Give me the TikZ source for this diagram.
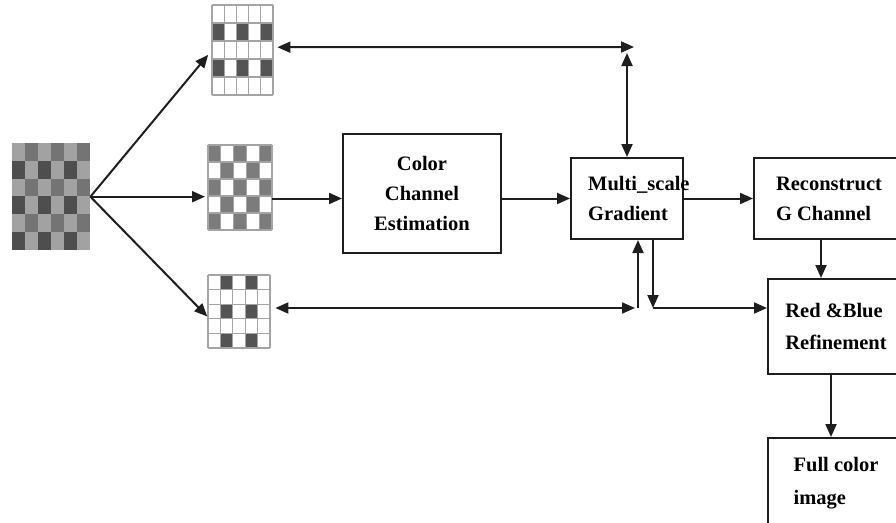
\documentclass[tikz,border=0pt]{standalone}
\usepackage{fontspec}
\setmainfont{Liberation Serif}
\usepackage{tikz}
\usetikzlibrary{arrows.meta, positioning, calc}
\definecolor{ink}{HTML}{1E1E1E}
\definecolor{bayer0}{HTML}{A2A2A2}
\definecolor{bayer1}{HTML}{747474}
\definecolor{bayer2}{HTML}{4E4E4E}
\definecolor{bayer3}{HTML}{A2A2A2}
\definecolor{cellgray}{HTML}{7C7C7C}
\definecolor{celldark}{HTML}{545454}
\definecolor{cellline}{HTML}{A4A4A4}

\begin{document}
\begin{tikzpicture}[x=1pt, y=-1pt,
    >={Triangle[length=13pt, width=11pt]},
    flow/.style={draw=ink, line width=2pt},
    stage/.style={draw=ink, line width=2pt, fill=white, anchor=north west, inner sep=0pt, align=center,
      font=\bfseries\fontsize{20.5}{30}\selectfont},
    tile/.style={anchor=north west, inner sep=0pt},
    cellrule/.style={draw=cellline, line width=1.1pt}]
  \useasboundingbox (0,0) rectangle (896,522);
  \clip (0,0) rectangle (896,522);

  % mosaic input
  \node[tile, minimum width=78pt, minimum height=107pt] (bayer) at (12,143) {};
  \foreach \r in {0,...,5}{
    \foreach \c in {0,...,5}{
      \pgfmathtruncatemacro{\kind}{mod(\r,2)*2+mod(\c,2)}
      \fill[bayer\kind] (12+\c*13,143+\r*17.83) rectangle ++(13,17.83);
    }
  }

  % sampled planes
  \node[tile, minimum width=61pt, minimum height=90pt] (rgrid) at (212,5) {};
  \foreach \r in {1,3}{
    \foreach \c in {0,2,4}
      \fill[celldark] (212+\c*12.2,5+\r*18) rectangle ++(12.2,18);
  }
  \foreach \k in {0,...,5}{
    \draw[cellrule] (212+\k*12.2,5) -- ++(0,90);
    \draw[cellrule] (212,5+\k*18) -- ++(61,0);
  }

  \node[tile, minimum width=64pt, minimum height=85pt] (ggrid) at (208,145) {};
  \foreach \r in {0,...,4}{
    \foreach \c in {0,...,4}{
      \pgfmathtruncatemacro{\odd}{mod(\r+\c,2)}
      \ifnum\odd=0 \fill[cellgray] (208+\c*12.8,145+\r*17) rectangle ++(12.8,17); \fi
    }
  }
  \foreach \k in {0,...,5}{
    \draw[cellrule] (208+\k*12.8,145) -- ++(0,85);
    \draw[cellrule] (208,145+\k*17) -- ++(64,0);
  }

  \node[tile, minimum width=62pt, minimum height=73pt] (bgrid) at (208,275) {};
  \foreach \r in {0,2,4}{
    \foreach \c in {1,3}
      \fill[celldark] (208+\c*12.4,275+\r*14.6) rectangle ++(12.4,14.6);
  }
  \foreach \k in {0,...,5}{
    \draw[cellrule] (208+\k*12.4,275) -- ++(0,73);
    \draw[cellrule] (208,275+\k*14.6) -- ++(62,0);
  }

  % processing stages
  \node[stage, minimum width=158pt, minimum height=119pt] (cce) at (342,133) {Color\\Channel\\Estimation};
  \node[stage, minimum width=112pt, minimum height=81pt] (ms) at (570,157) {};
  \node[anchor=west, align=left, inner sep=0pt, font=\bfseries\fontsize{20.5}{30}\selectfont] (mstext) at ([xshift=18pt]ms.west) {Multi\_scale\\Gradient};
  \node[stage, minimum width=150pt, minimum height=81pt, align=left] (rcg) at (753,157) {Reconstruct\\G Channel};
  \node[stage, minimum width=136pt, minimum height=95pt, align=left, font=\bfseries\fontsize{20.5}{32}\selectfont] (rbr) at (767,278) {Red \&Blue\\Refinement};
  \node[stage, minimum width=136pt, minimum height=90pt, align=left, font=\bfseries\fontsize{20.5}{33}\selectfont] (fci) at (767,437) {Full color\\image};

  % connectors
  \draw[flow, ->, shorten >=6pt] (bayer.east) -- (rgrid.west);
  \draw[flow, ->, shorten >=3pt] (bayer.east) -- (ggrid.west |- bayer.east);
  \draw[flow, ->, shorten >=1pt] (bayer.east) -- ([yshift=-5.5pt]bgrid.west);
  \draw[flow, ->] (ggrid.east |- ms.west) -- (cce.west |- ms.west);
  \draw[flow, ->] (cce.east |- ms.west) -- (ms.west);
  \draw[flow, ->] (ms.east) -- (rcg.west);

  \coordinate (rtip) at (634,47);
  \draw[flow, <->, shorten <=4pt] ([yshift=3pt]rgrid.east) -- (rtip);
  \draw[flow, <->] ([yshift=-6pt]rtip -| ms.north) -- (ms.north);

  \coordinate (btip) at (635,308);
  \coordinate (bup) at ([xshift=11pt]ms.south);
  \coordinate (bdown) at ([xshift=26pt]ms.south);
  \draw[flow, <->, shorten <=5pt] (bgrid.east |- btip) -- (btip);
  \draw[flow, ->] (bup |- btip) -- (bup);
  \draw[flow, ->] (bdown) -- (bdown |- btip);
  \draw[flow, ->] (bdown |- btip) -- (rbr.west |- btip);

  \draw[flow, ->] ([xshift=-8pt]rcg.south) -- ([xshift=-8pt]rcg.south |- rbr.north);
  \draw[flow, ->] ([xshift=-5pt]rbr.south) -- ([xshift=-5pt]rbr.south |- fci.north);
\end{tikzpicture}
\end{document}
